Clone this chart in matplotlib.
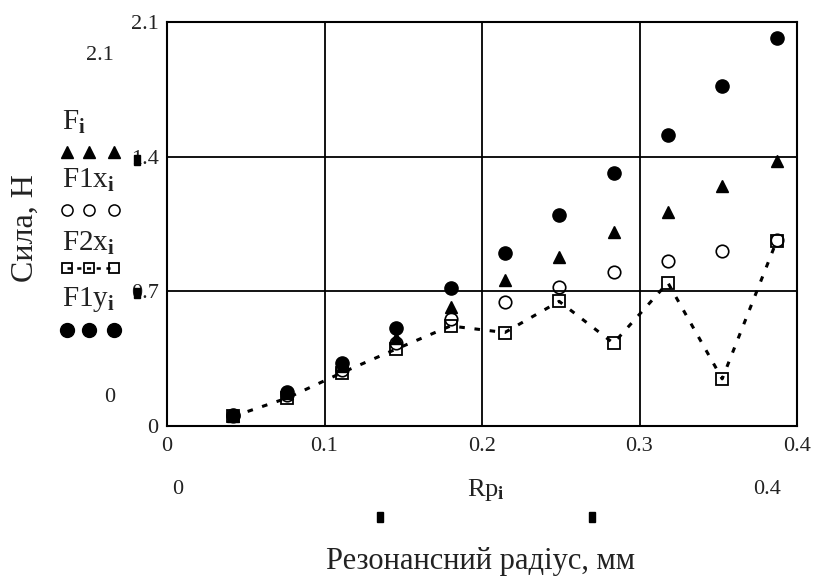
import numpy as np
import matplotlib
matplotlib.use("Agg")
from matplotlib import pyplot as plt
from matplotlib.lines import Line2D
from matplotlib.patches import Rectangle

plt.rcParams["font.family"] = "Liberation Serif"
plt.rcParams["mathtext.fontset"] = "custom"
plt.rcParams["mathtext.rm"] = "Liberation Serif"
plt.rcParams["mathtext.it"] = "Liberation Serif:italic"
plt.rcParams["mathtext.bf"] = "Liberation Serif:bold"
plt.rcParams["lines.scale_dashes"] = False

# data
rp = [0.042, 0.0765, 0.111, 0.1455, 0.18, 0.2145, 0.249, 0.2835, 0.318, 0.3525, 0.387]
F = [0.05, 0.17, 0.31, 0.455, 0.62, 0.76, 0.88, 1.01, 1.11, 1.25, 1.38]
F1x = [0.05, 0.16, 0.29, 0.43, 0.555, 0.643, 0.72, 0.80, 0.86, 0.91, 0.967]
F2x = [0.05, 0.146, 0.277, 0.40, 0.52, 0.486, 0.648, 0.43, 0.745, 0.245, 0.96]
F1y = [0.055, 0.178, 0.33, 0.51, 0.715, 0.90, 1.097, 1.317, 1.515, 1.765, 2.017]

xticks = [0, 0.1, 0.2, 0.3, 0.4]
xlabels = ["0", "0.1", "0.2", "0.3", "0.4"]
yticks = [0, 0.7, 1.4, 2.1]
ylabels = ["0", "0.7", "1.4", "2.1"]

TXT = "#222222"
W, H = 816, 581

fig = plt.figure(figsize=(8.16, 5.81), dpi=100)
ax = fig.add_axes([167 / W, 1 - 426 / H, (797 - 167) / W, (426 - 22) / H])


def px(x, y):
    return x / W, 1 - y / H


ms = 9
ax.plot(rp, F, ls="none", marker="^", ms=ms, color="black", zorder=3)
ax.plot(rp, F1x, ls="none", marker="o", ms=ms, mfc="none", mec="black", mew=1.2, zorder=3)
ax.plot(rp, F2x, ls=(0, (4, 7)), lw=2.2, color="black", marker="s", ms=ms,
        mfc="none", mec="black", mew=1.3, zorder=4)
ax.plot(rp, F1y, ls="none", marker="o", ms=ms + 0.5, color="black", zorder=5)

ax.set_xlim(0, 0.4)
ax.set_ylim(0, 2.1)
ax.set_xticks(xticks)
ax.set_xticklabels(xlabels)
ax.set_yticks(yticks)
ax.set_yticklabels(ylabels)
ax.tick_params(length=0, labelsize=16, labelcolor=TXT)
ax.tick_params(axis="x", pad=8)
ax.tick_params(axis="y", pad=6)
ax.grid(True, color="black", lw=1.3)
for s in ax.spines.values():
    s.set_linewidth(1.5)

# mathcad-style labels on the left
fig.text(*px(100, 55), "2.1", fontsize=16, color=TXT, ha="center", va="center")
fig.text(*px(110, 397), "0", fontsize=16, color=TXT, ha="center", va="center")
fig.text(*px(25, 228), "Сила, Н", fontsize=23, color=TXT, rotation=90,
         ha="center", va="center")

names = [r"F$_\mathbf{i}$", r"F1x$_\mathbf{i}$", r"F2x$_\mathbf{i}$", r"F1y$_\mathbf{i}$"]
name_y = [122, 180, 243, 300]
mark_y = [152, 210, 268, 330]
for n, y in zip(names, name_y):
    fig.text(*px(62, y), n, fontsize=21, color=TXT, ha="left", va="center")

mx = [67 / W, 89 / W, 114 / W]
styles = [
    dict(ls="none", marker="^", ms=9, color="black"),
    dict(ls="none", marker="o", ms=8, mfc="none", mec="black", mew=1.1),
    dict(ls=(0, (3, 4)), lw=1.8, marker="s", ms=7, color="black", mfc="none", mec="black", mew=1.3),
    dict(ls="none", marker="o", ms=10, color="black"),
]
for st, y in zip(styles, mark_y):
    fig.add_artist(Line2D(mx, [1 - y / H] * 3, transform=fig.transFigure, **st))

# bottom labels
fig.text(*px(178, 490), "0", fontsize=16, color=TXT, ha="center", va="center")
fig.text(*px(767, 490), "0.4", fontsize=16, color=TXT, ha="center", va="center")
fig.text(*px(486, 490), r"Rp$_\mathbf{i}$", fontsize=19, color=TXT, ha="center", va="center")
fig.text(*px(480, 562), "Резонансний радіус, мм", fontsize=22, color=TXT,
         ha="center", va="center")

# small black blocks left by the editor
for bx, by in [(380, 517), (592, 517), (137, 160), (137, 293)]:
    fig.add_artist(Rectangle(((bx - 3) / W, 1 - (by + 5) / H), 6 / W, 10 / H,
                             transform=fig.transFigure, color="black"))

fig.savefig("out.png", dpi=100)
